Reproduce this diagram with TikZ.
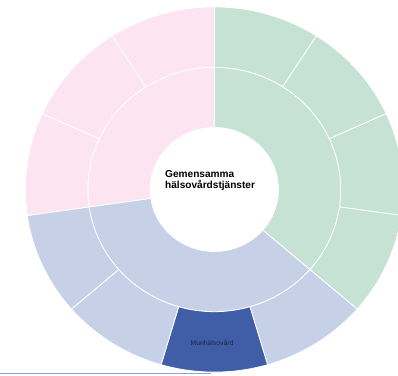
\documentclass[tikz,border=0pt]{standalone}
\usepackage{fontspec}
\setmainfont{Liberation Sans}
\definecolor{gr}{HTML}{C5E2D4}
\definecolor{pk}{HTML}{FCE4F0}
\definecolor{lb}{HTML}{C6D0E7}
\definecolor{db}{HTML}{3F5EA7}
\definecolor{ln}{HTML}{8EA5D9}
\definecolor{tx}{HTML}{1B2440}
\tikzset{
  seg/.style={draw=white, line width=0.8pt, line join=round},
}
\newcommand{\wedgeseg}[5]{% color, start, end, r1, r2
  \filldraw[seg, fill=#1] (#2:#4) arc[start angle=#2, end angle=#3, radius=#4] -- (#3:#5) arc[start angle=#3, end angle=#2, radius=#5] -- cycle;
}
\begin{document}
\begin{tikzpicture}[x=1pt,y=1pt]
\useasboundingbox (0,0) rectangle (398,375);
\clip (0,0) rectangle (398,375);
\fill[white] (0,0) rectangle (398,375);
\begin{scope}[shift={(214.3,185.5)}, xscale=1.035]
  \pgfmathsetmacro{\d}{360/11}
  % inner ring
  \wedgeseg{gr}{90}{90-4*\d}{62}{122.2}
  \wedgeseg{lb}{90-4*\d}{90-8*\d}{62}{122.2}
  \wedgeseg{pk}{90-8*\d}{-270}{62}{122.2}
  % outer ring
  \foreach \i/\c in {0/gr,1/gr,2/gr,3/gr,4/lb,5/db,6/lb,7/lb,8/pk,9/pk,10/pk}{
    \pgfmathsetmacro{\a}{90-\i*\d}
    \pgfmathsetmacro{\b}{90-(\i+1)*\d}
    \wedgeseg{\c}{\a}{\b}{122.2}{182.6}
  }
\end{scope}
\node[font=\bfseries\fontsize{10.1}{11}\selectfont, align=left, anchor=base west, inner sep=0pt] (title) at (165,186.7) {Gemensamma\\hälsovårdstjänster};
\node[font=\fontsize{6.8}{8}\selectfont, text=tx, anchor=base, inner sep=0pt] (mun) at (212,30) {Munhälsovård};
\coordinate (la) at (0,1.3);
\coordinate (lbend) at (211,1.3);
\draw[ln, line width=1pt] (la) -- (lbend);
\end{tikzpicture}
\end{document}
